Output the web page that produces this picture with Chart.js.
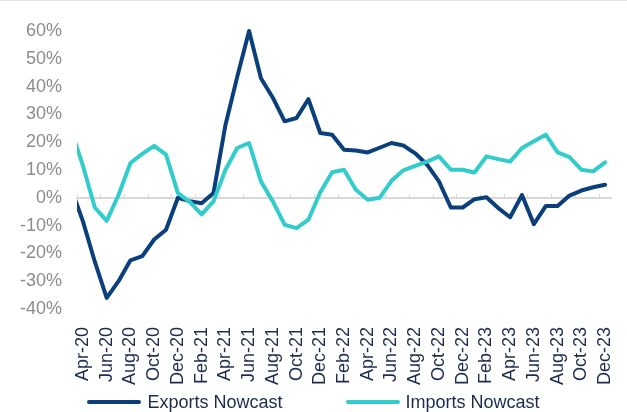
<!DOCTYPE html>
<html>
<head>
<meta charset="utf-8">
<script src="https://cdn.jsdelivr.net/npm/chart.js@4/dist/chart.umd.min.js"></script>
<style>
  body { margin: 0; background: #fff; }
  .cadre { position: relative; width: 627px; height: 412px; }
  .bord-haut { position: absolute; left: 0; top: 0; width: 627px; height: 1px; background: #e4e4e4; }
  .legende {
    position: absolute; left: 0; top: 390px; width: 627px; height: 24px;
    display: flex; justify-content: center; align-items: center; gap: 63px;
    font-family: "Liberation Sans", Arial, sans-serif; font-size: 18px; color: #1c2b4f;
  }
  .legende span.item { display: flex; align-items: center; }
  .legende span.trait { display: inline-block; width: 54px; height: 4px; border-radius: 2px; margin-right: 6px; }
</style>
</head>
<body>
<div class="cadre">
  <canvas id="graphique-nowcast" width="627" height="412"></canvas>
  <div class="bord-haut"></div>
  <div class="legende" id="legende"></div>
</div>
<script>
// Mois (Mar-20 sert seulement au segment coupé au bord gauche)
const mois = [
  "Mar-20", "Apr-20", "May-20", "Jun-20", "Jul-20", "Aug-20", "Sep-20", "Oct-20", "Nov-20", "Dec-20",
  "Jan-21", "Feb-21", "Mar-21", "Apr-21", "May-21", "Jun-21", "Jul-21", "Aug-21", "Sep-21", "Oct-21", "Nov-21", "Dec-21",
  "Jan-22", "Feb-22", "Mar-22", "Apr-22", "May-22", "Jun-22", "Jul-22", "Aug-22", "Sep-22", "Oct-22", "Nov-22", "Dec-22",
  "Jan-23", "Feb-23", "Mar-23", "Apr-23", "May-23", "Jun-23", "Jul-23", "Aug-23", "Sep-23", "Oct-23", "Nov-23", "Dec-23",
];

const exportsNowcast = [
  3.5, -8.5, -23, -36, -30, -22.5, -21, -15, -11.5, 0,
  -1.2, -2, 1.7, 26, 43.5, 60, 43, 36, 27.5, 28.7, 35.5, 23.3,
  22.7, 17.3, 17, 16.3, 18, 19.7, 18.8, 16, 11.9, 5.9, -3.5, -3.5,
  -0.5, 0.2, -3.7, -7, 1, -9.5, -3, -3, 0.8, 2.6, 3.8, 4.7,
];

const importsNowcast = [
  24.5, 11.5, -3.5, -8.3, 1, 12.5, 15.8, 18.7, 15.5, 1.7,
  -1.5, -6, -1.3, 10, 17.9, 19.7, 5.9, -1.3, -9.7, -10.9, -7.9, 2,
  9.2, 10.1, 2.9, -0.7, 0, 6.1, 9.9, 11.5, 13, 14.9, 10.1, 10.1,
  9.1, 14.9, 13.9, 13, 17.9, 20.3, 22.7, 16.3, 14.6, 10.1, 9.5, 12.7,
];

const nomsSeries = ["Exports Nowcast", "Imports Nowcast"];
const couleurs = ["#0b3f7c", "#33cccc"];

const police = { family: "'Liberation Sans', Arial, sans-serif", size: 18 };

const data = {
  labels: mois,
  datasets: [
    {
      label: nomsSeries[0],
      data: exportsNowcast,
      borderColor: couleurs[0],
      backgroundColor: couleurs[0],
      order: 1,
    },
    {
      label: nomsSeries[1],
      data: importsNowcast,
      borderColor: couleurs[1],
      backgroundColor: couleurs[1],
      order: 0, // les importations passent par-dessus
    },
  ],
};

const config = {
  type: "line",
  data: data,
  options: {
    responsive: false,
    animation: false,
    layout: { padding: { left: 5, right: 16, top: 31, bottom: 27 } },
    elements: {
      line: { borderWidth: 4, tension: 0, borderJoinStyle: "round", borderCapStyle: "round" },
      point: { radius: 0 },
    },
    datasets: {
      line: { clip: { left: 0, top: 10, right: 10, bottom: 10 } },
    },
    plugins: {
      legend: { display: false },
      tooltip: { enabled: false },
    },
    scales: {
      x: {
        type: "category",
        min: 1,
        offset: true,
        // grille masquée : tickLength sert juste d'espace sous le graphique
        grid: { display: false, drawTicks: true, tickLength: 18 },
        border: { display: false },
        ticks: {
          autoSkip: false,
          minRotation: 90,
          maxRotation: 90,
          padding: 0,
          color: "#1c2b4f",
          font: police,
          callback: function (valeur, index) {
            return index % 2 === 0 ? this.getLabelForValue(valeur) : "";
          },
        },
      },
      // axe du zéro avec ses petites graduations
      x2: {
        type: "category",
        axis: "x",
        position: { y: 0 },
        min: 1,
        offset: true,
        grid: {
          offset: true,
          drawOnChartArea: false,
          drawTicks: true,
          tickLength: -5,
          lineWidth: 1,
          color: (ctx) => (ctx.index % 2 === 0 ? "#d9d9d9" : "rgba(0,0,0,0)"),
        },
        border: { color: "#d9d9d9", width: 2 },
        ticks: { display: false, autoSkip: false },
      },
      y: {
        min: -40,
        max: 60,
        grid: { display: false, drawTicks: false },
        border: { display: false },
        ticks: {
          stepSize: 10,
          padding: 15,
          color: "#8c8c8c",
          font: police,
          callback: (v) => v + "%",
        },
      },
    },
  },
};

new Chart(document.querySelector("#graphique-nowcast"), config);

// Légende en bas
const legende = document.querySelector("#legende");
for (let i = 0; i < nomsSeries.length; i++) {
  legende.innerHTML += `<span class="item"><span class="trait" style="background:${couleurs[i]}"></span>${nomsSeries[i]}</span>`;
}
</script>
</body>
</html>
